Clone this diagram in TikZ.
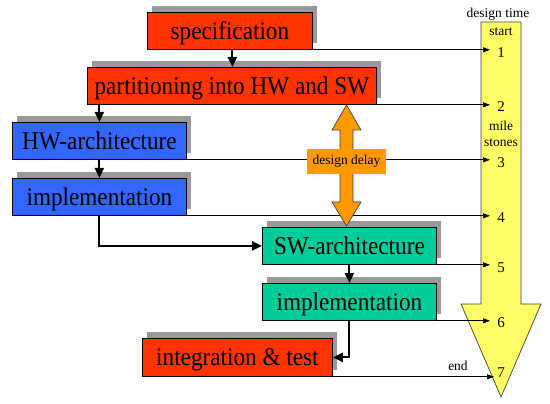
\documentclass[tikz,border=0pt]{standalone}
\usepackage{fontspec}
\setmainfont{Liberation Serif}
\newfontfamily\tnr{Liberation Serif}
\newfontfamily\tnrc[FakeStretch=0.91]{Liberation Serif}
\usetikzlibrary{arrows.meta,shadows,calc}
\definecolor{cred}{RGB}{255,51,0}
\definecolor{cblue}{RGB}{51,102,255}
\definecolor{cteal}{RGB}{0,204,153}
\definecolor{corange}{RGB}{255,153,0}
\definecolor{cyellow}{RGB}{255,255,102}
\definecolor{cshadow}{RGB}{153,153,153}
\begin{document}
\begin{tikzpicture}[x=1pt,y=-1pt,
  box/.style={draw=black, line width=0.8pt, anchor=north west, minimum height=37pt,
    inner sep=0pt, text height=17pt, text depth=0pt, font=\tnrc\fontsize{25.5}{26}\selectfont,
    drop shadow={shadow xshift=5pt, shadow yshift=6pt, fill=cshadow, opacity=1}},
  flow/.style={line width=2pt, -{Triangle[width=9pt,length=10pt]}},
  ms/.style={line width=0.7pt, -{Triangle[width=5pt,length=7pt]}},
  txt/.style={font=\tnr\fontsize{13.5}{15}\selectfont, inner sep=0pt},
  num/.style={font=\tnr\fontsize{15}{16}\selectfont, inner sep=0pt},
  bigarrow/.style={draw=black!75, line width=0.7pt}]
\useasboundingbox (0,0) rectangle (550,404);

% design time arrow
\draw[bigarrow, fill=cyellow] (481,22) -- (521,22) -- (521,304) -- (541,304) -- (501,397)
  -- (461,304) -- (481,304) -- cycle;
\node[txt] (dt) at (498,14) {design time};
\node[txt] (st) at (501,32) {start};
\node[txt, align=center] (mst) at (501,134) {mile\\[1pt]stones};
\node[txt] (en) at (458,366) {end};

% boxes
\node[box, fill=cred, minimum width=165pt] (spec) at (147,12) {specification};
\node[box, fill=cred, minimum width=289pt] (part) at (87,67) {partitioning into HW and SW};
\node[box, fill=cblue, minimum width=174pt] (hwa) at (12,122) {HW-architecture};
\node[box, fill=cblue, minimum width=174pt] (hwi) at (12,178) {implementation};
\node[box, fill=cteal, minimum width=174pt] (swa) at (262,227) {SW-architecture};
\node[box, fill=cteal, minimum width=174pt] (swi) at (262,283) {implementation};
\node[box, fill=cred, minimum width=190pt, minimum height=38pt] (integ) at (142,338) {integration \& test};

% milestone targets
\coordinate (m1) at (490,50);
\coordinate (m2) at (490,105);
\coordinate (m3) at (490,160);
\coordinate (m4) at (490,216);
\coordinate (m5) at (490,265);
\coordinate (m6) at (490,320);
\coordinate (m7) at (494,376);
\node[num] (n1) at (501,53) {1};
\node[num] (n2) at (501,107) {2};
\node[num] (n3) at (501,163) {3};
\node[num] (n4) at (501,218) {4};
\node[num] (n5) at (501,268) {5};
\node[num] (n6) at (501,323) {6};
\node[num] (n7) at (501,373) {7};

\draw[ms] (spec.south east) -- (m1 |- spec.south east);
\draw[ms] (part.south east) -- (m2 |- part.south east);
\draw[ms] (hwa.south east) -- (m3 |- hwa.south east);
\draw[ms] (hwi.south east) -- (m4 |- hwi.south east);
\draw[ms] (swa.south east) -- (m5 |- swa.south east);
\draw[ms] (swi.south east) -- (m6 |- swi.south east);
\draw[ms] (integ.south east) -- (m7 |- integ.south east);

% flow arrows
\draw[flow] ([xshift=2.5pt]spec.south) -- ([xshift=2.5pt]spec.south |- part.north);
\draw[flow] (part.south -| hwa.north) -- (hwa.north);
\draw[flow] (hwa.south) -- (hwi.north);
\draw[flow] (hwi.south) |- (swa.west);
\draw[flow] (swa.south) -- (swi.north);
\draw[flow] (swi.south) |- (integ.east);

% design delay arrow
\draw[bigarrow, fill=corange] (346.5,105) -- (361,130) -- (353,130) -- (353,202) -- (361,202)
  -- (346.5,226) -- (332,202) -- (340,202) -- (340,130) -- (332,130) -- cycle;
\node[txt, fill=corange, minimum width=79pt, minimum height=25pt] (dd) at (346.5,161.5) {design delay};
\end{tikzpicture}
\end{document}
